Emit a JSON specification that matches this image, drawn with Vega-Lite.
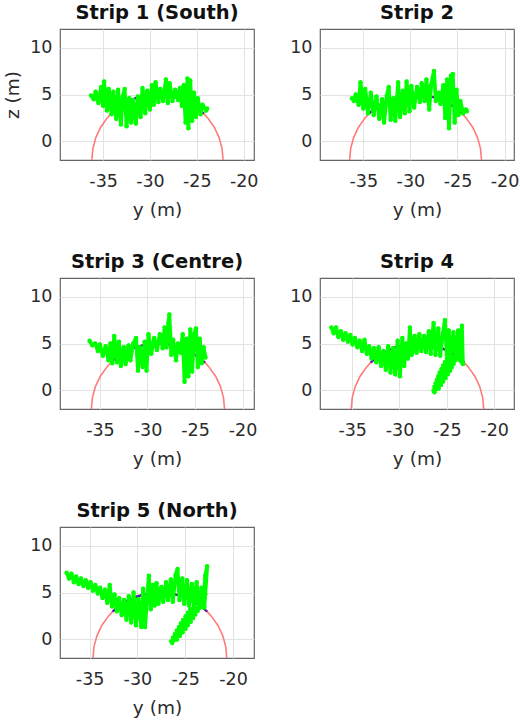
{
  "$schema": "https://vega.github.io/schema/vega-lite/v6.json",
  "background": "white",
  "padding": {"left": 3, "top": 1, "right": 0, "bottom": 0},
  "config": {
    "font": "DejaVu Sans",
    "view": {"stroke": "#666666", "strokeWidth": 1.2},
    "axis": {
      "grid": true, "gridColor": "#e2e2e2", "gridWidth": 1,
      "domain": false, "ticks": false, "labelOverlap": false, "labelFlush": false,
      "labelFont": "DejaVu Sans", "labelFontSize": 17.5, "labelColor": "#2b2b2b",
      "titleFont": "DejaVu Sans", "titleFontSize": 18.5, "titleFontWeight": "normal", "titleColor": "#2b2b2b"
    },
    "axisX": {"labelPadding": 12, "titlePadding": 11},
    "axisY": {"labelPadding": 8, "titlePadding": 7},
    "title": {"font": "DejaVu Sans", "fontSize": 19.5, "fontWeight": "bold", "color": "#111111", "frame": "group", "anchor": "middle", "baseline": "alphabetic", "offset": 6}
  },
  "datasets": {
    "arc1": [
      {"d": 0, "y": -22.2, "z": -2}, {"d": 10, "y": -22.306, "z": -0.784}, {"d": 20, "y": -22.622, "z": 0.394}, {"d": 30, "y": -23.138, "z": 1.5}, {"d": 40, "y": -23.838, "z": 2.5}, {"d": 45, "y": -24.25, "z": 2.95}, {"d": 50, "y": -24.7, "z": 3.362}, {"d": 60, "y": -25.7, "z": 4.062}, {"d": 70, "y": -26.806, "z": 4.578}, {"d": 80, "y": -27.984, "z": 4.894}, {"d": 90, "y": -29.2, "z": 5},
      {"d": 100, "y": -30.416, "z": 4.894}, {"d": 110, "y": -31.594, "z": 4.578}, {"d": 120, "y": -32.7, "z": 4.062}, {"d": 130, "y": -33.7, "z": 3.362}, {"d": 135, "y": -34.15, "z": 2.95}, {"d": 140, "y": -34.562, "z": 2.5}, {"d": 150, "y": -35.262, "z": 1.5}, {"d": 160, "y": -35.778, "z": 0.394}, {"d": 170, "y": -36.094, "z": -0.784}, {"d": 180, "y": -36.2, "z": -2}
    ],
    "arc2": [
      {"d": 0, "y": -22.45, "z": -2}, {"d": 10, "y": -22.556, "z": -0.784}, {"d": 20, "y": -22.872, "z": 0.394}, {"d": 30, "y": -23.388, "z": 1.5}, {"d": 40, "y": -24.088, "z": 2.5}, {"d": 45, "y": -24.5, "z": 2.95}, {"d": 50, "y": -24.95, "z": 3.362}, {"d": 60, "y": -25.95, "z": 4.062}, {"d": 70, "y": -27.056, "z": 4.578}, {"d": 80, "y": -28.234, "z": 4.894}, {"d": 90, "y": -29.45, "z": 5},
      {"d": 100, "y": -30.666, "z": 4.894}, {"d": 110, "y": -31.844, "z": 4.578}, {"d": 120, "y": -32.95, "z": 4.062}, {"d": 130, "y": -33.95, "z": 3.362}, {"d": 135, "y": -34.4, "z": 2.95}, {"d": 140, "y": -34.812, "z": 2.5}, {"d": 150, "y": -35.512, "z": 1.5}, {"d": 160, "y": -36.028, "z": 0.394}, {"d": 170, "y": -36.344, "z": -0.784}, {"d": 180, "y": -36.45, "z": -2}
    ],
    "arc3": [
      {"d": 0, "y": -21.9, "z": -2}, {"d": 10, "y": -22.006, "z": -0.784}, {"d": 20, "y": -22.322, "z": 0.394}, {"d": 30, "y": -22.838, "z": 1.5}, {"d": 40, "y": -23.538, "z": 2.5}, {"d": 45, "y": -23.95, "z": 2.95}, {"d": 50, "y": -24.4, "z": 3.362}, {"d": 60, "y": -25.4, "z": 4.062}, {"d": 70, "y": -26.506, "z": 4.578}, {"d": 80, "y": -27.684, "z": 4.894}, {"d": 90, "y": -28.9, "z": 5},
      {"d": 100, "y": -30.116, "z": 4.894}, {"d": 110, "y": -31.294, "z": 4.578}, {"d": 120, "y": -32.4, "z": 4.062}, {"d": 130, "y": -33.4, "z": 3.362}, {"d": 135, "y": -33.85, "z": 2.95}, {"d": 140, "y": -34.262, "z": 2.5}, {"d": 150, "y": -34.962, "z": 1.5}, {"d": 160, "y": -35.478, "z": 0.394}, {"d": 170, "y": -35.794, "z": -0.784}, {"d": 180, "y": -35.9, "z": -2}
    ],
    "arc4": [
      {"d": 0, "y": -21.1, "z": -2}, {"d": 10, "y": -21.206, "z": -0.784}, {"d": 20, "y": -21.522, "z": 0.394}, {"d": 30, "y": -22.038, "z": 1.5}, {"d": 40, "y": -22.738, "z": 2.5}, {"d": 45, "y": -23.15, "z": 2.95}, {"d": 50, "y": -23.6, "z": 3.362}, {"d": 60, "y": -24.6, "z": 4.062}, {"d": 70, "y": -25.706, "z": 4.578}, {"d": 80, "y": -26.884, "z": 4.894}, {"d": 90, "y": -28.1, "z": 5},
      {"d": 100, "y": -29.316, "z": 4.894}, {"d": 110, "y": -30.494, "z": 4.578}, {"d": 120, "y": -31.6, "z": 4.062}, {"d": 130, "y": -32.6, "z": 3.362}, {"d": 135, "y": -33.05, "z": 2.95}, {"d": 140, "y": -33.462, "z": 2.5}, {"d": 150, "y": -34.162, "z": 1.5}, {"d": 160, "y": -34.678, "z": 0.394}, {"d": 170, "y": -34.994, "z": -0.784}, {"d": 180, "y": -35.1, "z": -2}
    ],
    "arc5": [
      {"d": 0, "y": -20.65, "z": -2}, {"d": 10, "y": -20.756, "z": -0.784}, {"d": 20, "y": -21.072, "z": 0.394}, {"d": 30, "y": -21.588, "z": 1.5}, {"d": 40, "y": -22.288, "z": 2.5}, {"d": 45, "y": -22.7, "z": 2.95}, {"d": 50, "y": -23.15, "z": 3.362}, {"d": 60, "y": -24.15, "z": 4.062}, {"d": 70, "y": -25.256, "z": 4.578}, {"d": 80, "y": -26.434, "z": 4.894}, {"d": 90, "y": -27.65, "z": 5},
      {"d": 100, "y": -28.866, "z": 4.894}, {"d": 110, "y": -30.044, "z": 4.578}, {"d": 120, "y": -31.15, "z": 4.062}, {"d": 130, "y": -32.15, "z": 3.362}, {"d": 135, "y": -32.6, "z": 2.95}, {"d": 140, "y": -33.012, "z": 2.5}, {"d": 150, "y": -33.712, "z": 1.5}, {"d": 160, "y": -34.228, "z": 0.394}, {"d": 170, "y": -34.544, "z": -0.784}, {"d": 180, "y": -34.65, "z": -2}
    ],
    "scan1": [
      {"y": -36.3, "z": 4.9}, {"y": -36.0, "z": 4.5}, {"y": -35.8, "z": 5.3}, {"y": -35.5, "z": 4.1}, {"y": -35.2, "z": 5.8}, {"y": -35.0, "z": 3.8}, {"y": -34.9, "z": 6.4}, {"y": -34.6, "z": 3.3}, {"y": -34.4, "z": 5.6}, {"y": -34.1, "z": 2.9},
      {"y": -33.9, "z": 5.3}, {"y": -33.6, "z": 2.4}, {"y": -33.4, "z": 5.5}, {"y": -33.1, "z": 1.8}, {"y": -32.9, "z": 4.8}, {"y": -32.7, "z": 5.6}, {"y": -32.5, "z": 1.6}, {"y": -32.2, "z": 4.6}, {"y": -32.0, "z": 2.0}, {"y": -31.8, "z": 4.4},
      {"y": -31.5, "z": 1.9}, {"y": -31.3, "z": 4.8}, {"y": -31.0, "z": 2.6}, {"y": -30.8, "z": 5.7}, {"y": -30.5, "z": 3.0}, {"y": -30.3, "z": 5.4}, {"y": -30.0, "z": 3.4}, {"y": -29.8, "z": 6.0}, {"y": -29.6, "z": 3.9}, {"y": -29.4, "z": 6.3},
      {"y": -29.1, "z": 4.2}, {"y": -28.9, "z": 5.6}, {"y": -28.6, "z": 4.3}, {"y": -28.3, "z": 6.6}, {"y": -28.1, "z": 4.1}, {"y": -27.9, "z": 6.2}, {"y": -27.6, "z": 4.3}, {"y": -27.3, "z": 5.5}, {"y": -27.0, "z": 4.4}, {"y": -26.8, "z": 5.7},
      {"y": -26.6, "z": 3.8}, {"y": -26.4, "z": 6.0}, {"y": -26.2, "z": 2.0}, {"y": -26.0, "z": 6.7}, {"y": -25.9, "z": 1.4}, {"y": -25.7, "z": 6.5}, {"y": -25.5, "z": 2.2}, {"y": -25.3, "z": 5.2}, {"y": -25.1, "z": 2.6}, {"y": -24.9, "z": 4.6},
      {"y": -24.6, "z": 2.9}, {"y": -24.4, "z": 3.9}, {"y": -24.0, "z": 3.3}, {"y": -23.9, "z": 3.5}
    ],
    "scan2": [
      {"y": -36.2, "z": 4.6}, {"y": -36.0, "z": 4.3}, {"y": -35.8, "z": 5.0}, {"y": -35.5, "z": 3.9}, {"y": -35.3, "z": 6.3}, {"y": -35.0, "z": 3.5}, {"y": -34.8, "z": 5.6}, {"y": -34.5, "z": 3.0}, {"y": -34.2, "z": 5.2}, {"y": -33.9, "z": 2.8},
      {"y": -33.6, "z": 4.8}, {"y": -33.3, "z": 2.4}, {"y": -33.0, "z": 4.5}, {"y": -32.8, "z": 2.0}, {"y": -32.5, "z": 4.9}, {"y": -32.3, "z": 5.8}, {"y": -32.1, "z": 2.3}, {"y": -31.8, "z": 4.6}, {"y": -31.6, "z": 2.2}, {"y": -31.3, "z": 6.3},
      {"y": -31.1, "z": 2.6}, {"y": -30.8, "z": 5.4}, {"y": -30.6, "z": 3.0}, {"y": -30.4, "z": 6.4}, {"y": -30.1, "z": 3.2}, {"y": -29.9, "z": 5.9}, {"y": -29.6, "z": 3.6}, {"y": -29.3, "z": 5.8}, {"y": -29.0, "z": 4.2}, {"y": -28.8, "z": 6.2},
      {"y": -28.5, "z": 4.3}, {"y": -28.3, "z": 6.6}, {"y": -28.0, "z": 3.4}, {"y": -27.8, "z": 6.0}, {"y": -27.5, "z": 7.5}, {"y": -27.3, "z": 4.3}, {"y": -27.0, "z": 5.2}, {"y": -26.8, "z": 4.0}, {"y": -26.5, "z": 6.0}, {"y": -26.3, "z": 2.5},
      {"y": -26.1, "z": 6.6}, {"y": -25.9, "z": 1.4}, {"y": -25.7, "z": 7.0}, {"y": -25.5, "z": 7.2}, {"y": -25.3, "z": 2.0}, {"y": -25.1, "z": 5.5}, {"y": -24.9, "z": 2.8}, {"y": -24.7, "z": 4.3}, {"y": -24.4, "z": 3.0}, {"y": -24.1, "z": 3.4},
      {"y": -24.0, "z": 3.2}
    ],
    "scan3": [
      {"y": -36.1, "z": 5.3}, {"y": -35.8, "z": 4.8}, {"y": -35.5, "z": 5.0}, {"y": -35.2, "z": 4.2}, {"y": -35.0, "z": 4.9}, {"y": -34.7, "z": 3.7}, {"y": -34.4, "z": 4.7}, {"y": -34.1, "z": 3.2}, {"y": -33.9, "z": 5.0}, {"y": -33.7, "z": 2.9},
      {"y": -33.5, "z": 5.8}, {"y": -33.2, "z": 3.0}, {"y": -33.0, "z": 5.2}, {"y": -32.8, "z": 2.6}, {"y": -32.5, "z": 4.6}, {"y": -32.3, "z": 2.8}, {"y": -32.0, "z": 4.8}, {"y": -31.8, "z": 3.2}, {"y": -31.5, "z": 5.0}, {"y": -31.2, "z": 5.6},
      {"y": -31.0, "z": 2.1}, {"y": -30.8, "z": 4.6}, {"y": -30.5, "z": 2.5}, {"y": -30.3, "z": 5.2}, {"y": -30.1, "z": 2.1}, {"y": -29.9, "z": 6.0}, {"y": -29.6, "z": 3.9}, {"y": -29.3, "z": 5.6}, {"y": -29.0, "z": 4.3}, {"y": -28.7, "z": 6.0},
      {"y": -28.4, "z": 4.5}, {"y": -28.2, "z": 6.7}, {"y": -28.0, "z": 4.6}, {"y": -27.8, "z": 7.2}, {"y": -27.7, "z": 8.1}, {"y": -27.5, "z": 3.8}, {"y": -27.3, "z": 5.4}, {"y": -27.0, "z": 3.2}, {"y": -26.8, "z": 5.0}, {"y": -26.5, "z": 4.0},
      {"y": -26.3, "z": 6.0}, {"y": -26.1, "z": 0.9}, {"y": -25.9, "z": 5.5}, {"y": -25.7, "z": 1.5}, {"y": -25.5, "z": 6.5}, {"y": -25.3, "z": 2.0}, {"y": -25.1, "z": 6.0}, {"y": -24.9, "z": 6.6}, {"y": -24.7, "z": 2.5}, {"y": -24.5, "z": 5.5},
      {"y": -24.3, "z": 2.9}, {"y": -24.1, "z": 4.6}, {"y": -23.9, "z": 3.5}
    ],
    "scan4": [
      {"y": -37.2, "z": 6.7}, {"y": -36.95, "z": 6.1}, {"y": -36.7, "z": 6.7}, {"y": -36.45, "z": 5.7}, {"y": -36.2, "z": 6.3}, {"y": -35.95, "z": 5.4}, {"y": -35.7, "z": 6.1}, {"y": -35.45, "z": 5.2}, {"y": -35.2, "z": 5.9}, {"y": -34.95, "z": 4.9},
      {"y": -34.7, "z": 5.6}, {"y": -34.45, "z": 4.6}, {"y": -34.2, "z": 5.3}, {"y": -33.95, "z": 4.2}, {"y": -33.7, "z": 5.4}, {"y": -33.45, "z": 3.9}, {"y": -33.2, "z": 4.7}, {"y": -32.95, "z": 3.4}, {"y": -32.7, "z": 4.5}, {"y": -32.45, "z": 3.0},
      {"y": -32.2, "z": 4.6}, {"y": -31.95, "z": 2.6}, {"y": -31.7, "z": 4.2}, {"y": -31.45, "z": 2.2}, {"y": -31.2, "z": 4.7}, {"y": -30.95, "z": 1.9}, {"y": -30.7, "z": 4.5}, {"y": -30.45, "z": 1.7}, {"y": -30.2, "z": 5.3}, {"y": -29.95, "z": 1.5},
      {"y": -29.7, "z": 5.6}, {"y": -29.5, "z": 2.6}, {"y": -29.3, "z": 5.0}, {"y": -29.1, "z": 3.4}, {"y": -28.9, "z": 6.7}, {"y": -28.7, "z": 3.8}, {"y": -28.4, "z": 5.8}, {"y": -28.2, "z": 4.0}, {"y": -27.9, "z": 6.0}, {"y": -27.7, "z": 4.2},
      {"y": -27.4, "z": 5.8}, {"y": -27.2, "z": 4.1}, {"y": -26.9, "z": 6.3}, {"y": -26.7, "z": 3.9}, {"y": -26.4, "z": 7.2}, {"y": -26.2, "z": 3.8}, {"y": -25.9, "z": 6.6}, {"y": -25.7, "z": 3.7}, {"y": -25.4, "z": 6.1}, {"y": -25.2, "z": 7.5},
      {"y": -25.0, "z": 3.8}, {"y": -24.8, "z": 6.4}, {"y": -24.6, "z": 3.6}, {"y": -24.3, "z": 6.2}, {"y": -24.1, "z": 3.5}, {"y": -23.8, "z": 6.4}, {"y": -23.6, "z": 3.2}, {"y": -23.4, "z": 6.9}, {"y": -23.3, "z": 2.8},
      {"y": -23.9, "z": 3.6}, {"y": -24.995, "z": 3.41}, {"y": -24.09, "z": 3.22}, {"y": -25.185, "z": 3.03}, {"y": -24.28, "z": 2.84}, {"y": -25.375, "z": 2.65}, {"y": -24.47, "z": 2.46}, {"y": -25.565, "z": 2.27}, {"y": -24.66, "z": 2.08}, {"y": -25.755, "z": 1.89},
      {"y": -24.9, "z": 1.7}, {"y": -25.9, "z": 1.51}, {"y": -25.14, "z": 1.32}, {"y": -26.04, "z": 1.13}, {"y": -25.38, "z": 0.94}, {"y": -26.18, "z": 0.75}, {"y": -25.62, "z": 0.56}, {"y": -26.3, "z": 0.37}, {"y": -25.86, "z": 0.18}, {"y": -26.4, "z": -0.01},
      {"y": -26.3, "z": -0.2}
    ],
    "scan5": [
      {"y": -37.4, "z": 7.1}, {"y": -37.15, "z": 6.5}, {"y": -36.9, "z": 7.0}, {"y": -36.65, "z": 6.1}, {"y": -36.4, "z": 6.7}, {"y": -36.15, "z": 5.9}, {"y": -35.9, "z": 6.5}, {"y": -35.65, "z": 5.7}, {"y": -35.4, "z": 6.3}, {"y": -35.15, "z": 5.5},
      {"y": -34.9, "z": 6.1}, {"y": -34.65, "z": 5.2}, {"y": -34.4, "z": 5.8}, {"y": -34.15, "z": 4.9}, {"y": -33.9, "z": 5.5}, {"y": -33.65, "z": 4.4}, {"y": -33.4, "z": 5.3}, {"y": -33.15, "z": 3.9}, {"y": -32.9, "z": 5.8}, {"y": -32.65, "z": 3.5},
      {"y": -32.4, "z": 4.8}, {"y": -32.15, "z": 3.0}, {"y": -31.9, "z": 4.4}, {"y": -31.65, "z": 2.6}, {"y": -31.4, "z": 4.2}, {"y": -31.15, "z": 2.1}, {"y": -30.9, "z": 4.6}, {"y": -30.65, "z": 1.8}, {"y": -30.4, "z": 5.0}, {"y": -30.15, "z": 1.5},
      {"y": -29.9, "z": 4.3}, {"y": -29.6, "z": 1.3}, {"y": -29.4, "z": 5.4}, {"y": -29.2, "z": 1.3}, {"y": -29.0, "z": 4.2}, {"y": -28.8, "z": 6.8}, {"y": -28.6, "z": 3.2}, {"y": -28.4, "z": 5.8}, {"y": -28.2, "z": 3.6}, {"y": -28.0, "z": 6.0},
      {"y": -27.8, "z": 3.8}, {"y": -27.5, "z": 5.6}, {"y": -27.3, "z": 4.0}, {"y": -27.0, "z": 6.1}, {"y": -26.8, "z": 4.2}, {"y": -26.5, "z": 6.4}, {"y": -26.3, "z": 4.0}, {"y": -26.0, "z": 6.9}, {"y": -25.8, "z": 7.5}, {"y": -25.6, "z": 4.2},
      {"y": -25.3, "z": 6.5}, {"y": -25.1, "z": 3.8}, {"y": -24.8, "z": 6.3}, {"y": -24.6, "z": 3.6}, {"y": -24.3, "z": 5.9}, {"y": -24.1, "z": 3.4}, {"y": -23.8, "z": 6.1}, {"y": -23.6, "z": 3.3}, {"y": -23.3, "z": 5.5}, {"y": -23.1, "z": 3.6},
      {"y": -22.9, "z": 6.8}, {"y": -22.7, "z": 7.8}, {"y": -22.9, "z": 4.8}, {"y": -23.0, "z": 3.4},
      {"y": -23.45, "z": 3.4}, {"y": -24.47, "z": 3.21}, {"y": -23.7, "z": 3.02}, {"y": -24.72, "z": 2.83}, {"y": -23.94, "z": 2.64}, {"y": -24.96, "z": 2.45}, {"y": -24.19, "z": 2.26}, {"y": -25.21, "z": 2.07}, {"y": -24.43, "z": 1.88}, {"y": -25.45, "z": 1.69},
      {"y": -24.73, "z": 1.5}, {"y": -25.65, "z": 1.31}, {"y": -24.97, "z": 1.12}, {"y": -25.89, "z": 0.93}, {"y": -25.27, "z": 0.74}, {"y": -26.09, "z": 0.55}, {"y": -25.56, "z": 0.36}, {"y": -26.28, "z": 0.17}, {"y": -25.86, "z": -0.02}, {"y": -26.45, "z": -0.21},
      {"y": -26.35, "z": -0.4}
    ]
  },
  "columns": 2,
  "spacing": {"row": 118, "column": 66},
  "bounds": "flush",
  "concat": [
    {
      "title": "Strip 1 (South)",
      "width": 194, "height": 131,
      "encoding": {
        "x": {"field": "y", "type": "quantitative", "scale": {"domain": [-39.6, -18.9], "nice": false, "zero": false}, "axis": {"title": "y (m)", "values": [-35, -30, -25, -20], "labelExpr": "'' + datum.value"}},
        "y": {"field": "z", "type": "quantitative", "scale": {"domain": [-2, 12], "nice": false, "zero": false}, "axis": {"title": "z (m)", "values": [0, 5, 10], "labelExpr": "'' + datum.value"}}
      },
      "layer": [
        {"data": {"name": "arc1"}, "mark": {"type": "line", "color": "#ff7b7b", "strokeWidth": 1.6}, "encoding": {}},
        {"data": {"name": "arc1"}, "transform": [{"filter": "datum.d >= 45 && datum.d <= 135"}], "mark": {"type": "line", "color": "#6a16b0", "strokeWidth": 2.4}, "encoding": {}},
        {"data": {"name": "scan1"}, "mark": {"type": "line", "color": "#00ff00", "strokeWidth": 3.8, "strokeJoin": "round"}, "encoding": {"order": {"value": null}}},
        {"data": {"name": "scan1"}, "mark": {"type": "point", "filled": true, "color": "#00ff00", "opacity": 1, "size": 20}}
      ]
    },
    {
      "title": "Strip 2",
      "width": 194, "height": 131,
      "encoding": {
        "x": {"field": "y", "type": "quantitative", "scale": {"domain": [-39.6, -19.0], "nice": false, "zero": false}, "axis": {"title": "y (m)", "values": [-35, -30, -25, -20], "labelExpr": "'' + datum.value"}},
        "y": {"field": "z", "type": "quantitative", "scale": {"domain": [-2, 12], "nice": false, "zero": false}, "axis": {"title": null, "values": [0, 5, 10], "labelExpr": "'' + datum.value"}}
      },
      "layer": [
        {"data": {"name": "arc2"}, "mark": {"type": "line", "color": "#ff7b7b", "strokeWidth": 1.6}, "encoding": {}},
        {"data": {"name": "arc2"}, "transform": [{"filter": "datum.d >= 45 && datum.d <= 135"}], "mark": {"type": "line", "color": "#6a16b0", "strokeWidth": 2.4}, "encoding": {}},
        {"data": {"name": "scan2"}, "mark": {"type": "line", "color": "#00ff00", "strokeWidth": 3.8, "strokeJoin": "round"}, "encoding": {"order": {"value": null}}},
        {"data": {"name": "scan2"}, "mark": {"type": "point", "filled": true, "color": "#00ff00", "opacity": 1, "size": 20}}
      ]
    },
    {
      "title": "Strip 3 (Centre)",
      "width": 194, "height": 131,
      "encoding": {
        "x": {"field": "y", "type": "quantitative", "scale": {"domain": [-39.2, -18.8], "nice": false, "zero": false}, "axis": {"title": "y (m)", "values": [-35, -30, -25, -20], "labelExpr": "'' + datum.value"}},
        "y": {"field": "z", "type": "quantitative", "scale": {"domain": [-2, 12], "nice": false, "zero": false}, "axis": {"title": null, "values": [0, 5, 10], "labelExpr": "'' + datum.value"}}
      },
      "layer": [
        {"data": {"name": "arc3"}, "mark": {"type": "line", "color": "#ff7b7b", "strokeWidth": 1.6}, "encoding": {}},
        {"data": {"name": "arc3"}, "transform": [{"filter": "datum.d >= 45 && datum.d <= 135"}], "mark": {"type": "line", "color": "#6a16b0", "strokeWidth": 2.4}, "encoding": {}},
        {"data": {"name": "scan3"}, "mark": {"type": "line", "color": "#00ff00", "strokeWidth": 3.8, "strokeJoin": "round"}, "encoding": {"order": {"value": null}}},
        {"data": {"name": "scan3"}, "mark": {"type": "point", "filled": true, "color": "#00ff00", "opacity": 1, "size": 20}}
      ]
    },
    {
      "title": "Strip 4",
      "width": 194, "height": 131,
      "encoding": {
        "x": {"field": "y", "type": "quantitative", "scale": {"domain": [-38.4, -17.9], "nice": false, "zero": false}, "axis": {"title": "y (m)", "values": [-35, -30, -25, -20], "labelExpr": "'' + datum.value"}},
        "y": {"field": "z", "type": "quantitative", "scale": {"domain": [-2, 12], "nice": false, "zero": false}, "axis": {"title": null, "values": [0, 5, 10], "labelExpr": "'' + datum.value"}}
      },
      "layer": [
        {"data": {"name": "arc4"}, "mark": {"type": "line", "color": "#ff7b7b", "strokeWidth": 1.6}, "encoding": {}},
        {"data": {"name": "arc4"}, "transform": [{"filter": "datum.d >= 45 && datum.d <= 135"}], "mark": {"type": "line", "color": "#6a16b0", "strokeWidth": 2.4}, "encoding": {}},
        {"data": {"name": "scan4"}, "mark": {"type": "line", "color": "#00ff00", "strokeWidth": 3.8, "strokeJoin": "round"}, "encoding": {"order": {"value": null}}},
        {"data": {"name": "scan4"}, "mark": {"type": "point", "filled": true, "color": "#00ff00", "opacity": 1, "size": 20}}
      ]
    },
    {
      "title": "Strip 5 (North)",
      "width": 194, "height": 131,
      "encoding": {
        "x": {"field": "y", "type": "quantitative", "scale": {"domain": [-38.1, -17.8], "nice": false, "zero": false}, "axis": {"title": "y (m)", "values": [-35, -30, -25, -20], "labelExpr": "'' + datum.value"}},
        "y": {"field": "z", "type": "quantitative", "scale": {"domain": [-2, 12], "nice": false, "zero": false}, "axis": {"title": null, "values": [0, 5, 10], "labelExpr": "'' + datum.value"}}
      },
      "layer": [
        {"data": {"name": "arc5"}, "mark": {"type": "line", "color": "#ff7b7b", "strokeWidth": 1.6}, "encoding": {}},
        {"data": {"name": "arc5"}, "transform": [{"filter": "datum.d >= 45 && datum.d <= 135"}], "mark": {"type": "line", "color": "#6a16b0", "strokeWidth": 2.4}, "encoding": {}},
        {"data": {"name": "scan5"}, "mark": {"type": "line", "color": "#00ff00", "strokeWidth": 3.8, "strokeJoin": "round"}, "encoding": {"order": {"value": null}}},
        {"data": {"name": "scan5"}, "mark": {"type": "point", "filled": true, "color": "#00ff00", "opacity": 1, "size": 20}}
      ]
    }
  ]
}
